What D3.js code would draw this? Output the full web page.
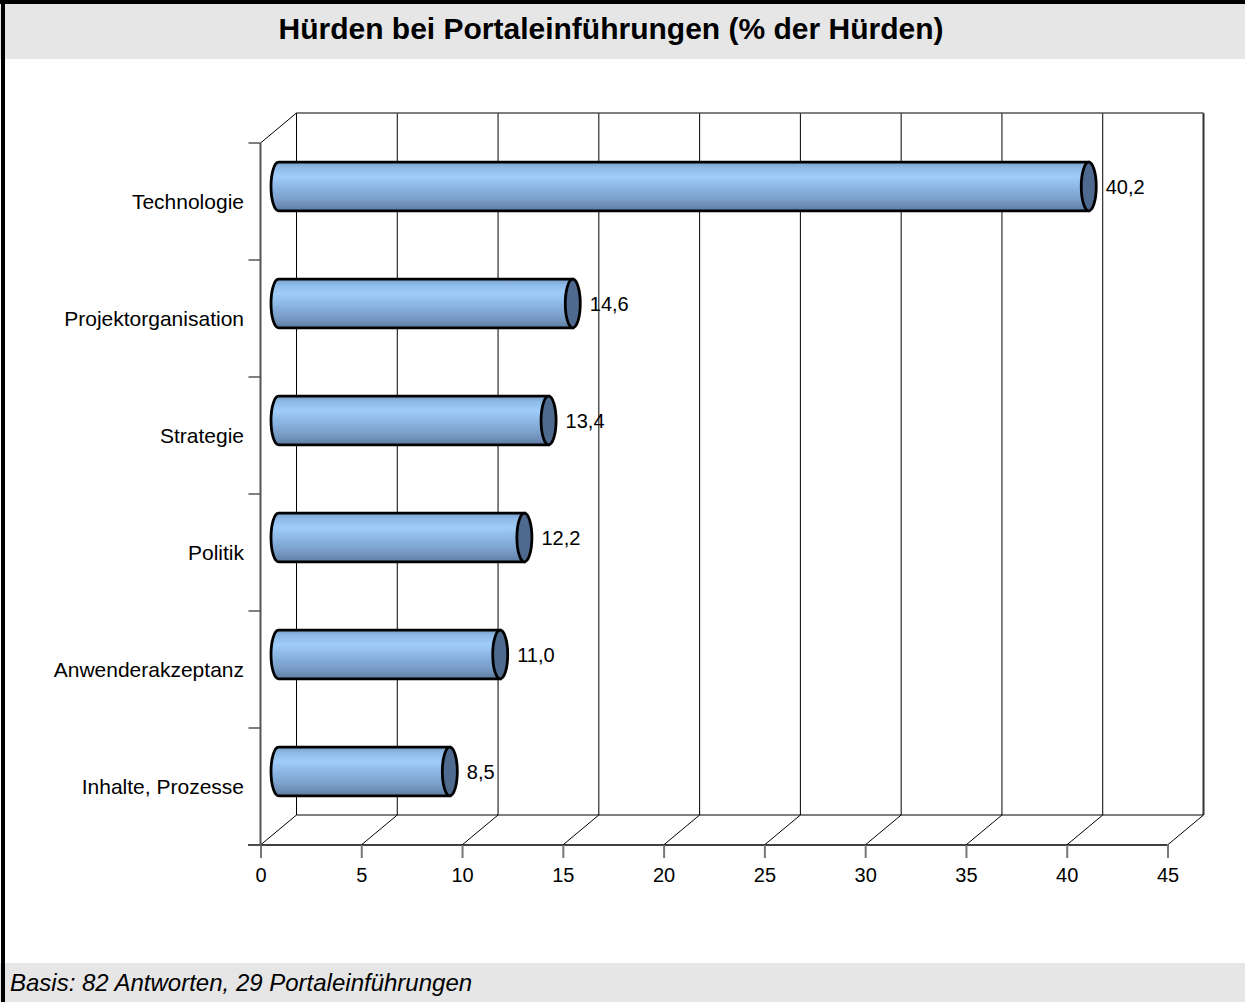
<!DOCTYPE html>
<html>
<head>
<meta charset="utf-8">
<script src="https://cdn.jsdelivr.net/npm/d3@7"></script>
<style>
  body { margin: 0; background: #fff; }
  svg text { font-family: "Liberation Sans", Arial, sans-serif; fill: #000; }
</style>
</head>
<body>
<svg></svg>
<script>
const categories = ["Technologie", "Projektorganisation", "Strategie", "Politik", "Anwenderakzeptanz", "Inhalte, Prozesse"];
const values = [40.2, 14.6, 13.4, 12.2, 11.0, 8.5];
const xTicks = [0, 5, 10, 15, 20, 25, 30, 35, 40, 45];
const title = "Hürden bei Portaleinführungen (% der Hürden)";
const footnote = "Basis: 82 Antworten, 29 Portaleinführungen";

const svg = d3.select("svg");
svg.attr("width", 1245).attr("height", 1002);

const de = d3.formatLocale({ decimal: ",", thousands: ".", grouping: [3], currency: ["", " €"] });
const fmt = de.format(".1f");

// frame, title band and footer band
svg.append("rect").attr("x", 0).attr("y", 0).attr("width", 1245).attr("height", 1002).attr("fill", "#fff");
svg.append("rect").attr("x", 0).attr("y", 4).attr("width", 1245).attr("height", 55).attr("fill", "#e6e6e6");
svg.append("rect").attr("x", 0).attr("y", 963).attr("width", 1245).attr("height", 39).attr("fill", "#e6e6e6");
svg.append("rect").attr("x", 0).attr("y", 0).attr("width", 1245).attr("height", 4).attr("fill", "#000");
svg.append("rect").attr("x", 1).attr("y", 0).attr("width", 4).attr("height", 1002).attr("fill", "#000");

svg.append("text")
  .attr("x", 611).attr("y", 39)
  .attr("text-anchor", "middle")
  .style("font-size", "30px")
  .style("font-weight", "bold")
  .text(title);

svg.append("text")
  .attr("x", 10).attr("y", 991)
  .style("font-size", "24px")
  .style("font-style", "italic")
  .text(footnote);

// plot geometry
const x = d3.scaleLinear().domain([0, 45]).range([260.5, 1167.5]);
const y = d3.scaleBand().domain(categories).range([143, 845]).padding(0);
const depth = { dx: 36, dy: -30 };
const baseY = 845;
const topY = 143;

const g = svg.append("g");

// back wall gridlines
g.selectAll(".grid")
  .data(xTicks)
  .enter().append("line")
  .attr("x1", d => x(d) + depth.dx).attr("x2", d => x(d) + depth.dx)
  .attr("y1", topY + depth.dy).attr("y2", baseY + depth.dy)
  .attr("stroke", d => d === 45 ? "#333" : "#000")
  .attr("stroke-width", d => d === 45 ? 2 : 1);

// back top edge
g.append("line")
  .attr("x1", x(0) + depth.dx).attr("x2", x(45) + depth.dx)
  .attr("y1", topY + depth.dy).attr("y2", topY + depth.dy)
  .attr("stroke", "#555").attr("stroke-width", 1.5);

// floor: back edge and diagonals
g.append("line")
  .attr("x1", x(0) + depth.dx).attr("x2", x(45) + depth.dx)
  .attr("y1", baseY + depth.dy).attr("y2", baseY + depth.dy)
  .attr("stroke", "#000").attr("stroke-width", 1);

g.selectAll(".floor")
  .data(xTicks)
  .enter().append("line")
  .attr("x1", d => x(d)).attr("x2", d => x(d) + depth.dx)
  .attr("y1", baseY).attr("y2", baseY + depth.dy)
  .attr("stroke", "#000").attr("stroke-width", 1);

// left side diagonal at top
g.append("line")
  .attr("x1", x(0)).attr("x2", x(0) + depth.dx)
  .attr("y1", topY).attr("y2", topY + depth.dy)
  .attr("stroke", "#000").attr("stroke-width", 1);

// front baseline
g.append("line")
  .attr("x1", 248).attr("x2", x(45))
  .attr("y1", baseY).attr("y2", baseY)
  .attr("stroke", "#000").attr("stroke-width", 1.5);

// x axis ticks and labels
const xAxis = g.append("g")
  .attr("transform", `translate(0,${baseY})`)
  .call(d3.axisBottom(x).tickValues(xTicks).tickSize(13).tickPadding(10).tickFormat(d3.format("d")));
xAxis.select(".domain").remove();
xAxis.selectAll(".tick line").attr("stroke", "#777").attr("stroke-width", 2);
xAxis.selectAll(".tick text").style("font-size", "20px").style("font-family", "Liberation Sans, Arial, sans-serif");

// left axis
g.append("line")
  .attr("x1", x(0)).attr("x2", x(0))
  .attr("y1", topY).attr("y2", baseY)
  .attr("stroke", "#555").attr("stroke-width", 2);

const bounds = categories.map(c => y(c)).concat([baseY]);
g.selectAll(".ytick")
  .data(bounds)
  .enter().append("line")
  .attr("x1", x(0) - 12).attr("x2", x(0))
  .attr("y1", d => d).attr("y2", d => d)
  .attr("stroke", "#555").attr("stroke-width", 1.5);

g.selectAll(".ylabel")
  .data(categories)
  .enter().append("text")
  .attr("x", 244)
  .attr("y", d => y(d) + y.bandwidth() / 2)
  .attr("dy", "0.35em")
  .attr("text-anchor", "end")
  .style("font-size", "21px")
  .text(d => d);

// cylinder gradient
const defs = svg.append("defs");
const grad = defs.append("linearGradient")
  .attr("id", "cyl").attr("x1", 0).attr("x2", 0).attr("y1", 0).attr("y2", 1);
[
  [0, "#7aa0cc"], [0.12, "#8fbbe8"], [0.3, "#9fccfa"], [0.45, "#92bdeb"],
  [0.6, "#85aedb"], [0.75, "#7ba0cb"], [0.88, "#6e8fb8"], [1, "#5d7ba1"]
].forEach(([o, c]) => grad.append("stop").attr("offset", o).attr("stop-color", c));

// bars (cylinders) sit half way into the depth
const barH = y.bandwidth() * 0.415;
const rx = 7.5;
const rows = categories.map((c, i) => ({ cat: c, value: values[i] }));

const bars = g.selectAll(".bar")
  .data(rows)
  .enter().append("g")
  .attr("class", "bar");

bars.append("path")
  .attr("d", d => {
    const cy = y(d.cat) + y.bandwidth() / 2 + depth.dy / 2;
    const x0 = x(0) + depth.dx / 2;
    const x1 = x(d.value) + depth.dx / 2;
    const t = cy - barH / 2, b = cy + barH / 2;
    return `M${x0},${t} L${x1},${t} L${x1},${b} L${x0},${b} A${rx},${barH / 2} 0 0 1 ${x0},${t} Z`;
  })
  .attr("fill", "url(#cyl)")
  .attr("stroke", "#000")
  .attr("stroke-width", 2.8);

bars.append("ellipse")
  .attr("cx", d => x(d.value) + depth.dx / 2)
  .attr("cy", d => y(d.cat) + y.bandwidth() / 2 + depth.dy / 2)
  .attr("rx", rx)
  .attr("ry", barH / 2)
  .attr("fill", "#4f6a8f")
  .attr("stroke", "#000")
  .attr("stroke-width", 2.8);

bars.append("text")
  .attr("x", d => x(d.value) + depth.dx / 2 + 17)
  .attr("y", d => y(d.cat) + y.bandwidth() / 2 + depth.dy / 2)
  .attr("dy", "0.35em")
  .style("font-size", "20px")
  .text(d => fmt(d.value));
</script>
</body>
</html>
